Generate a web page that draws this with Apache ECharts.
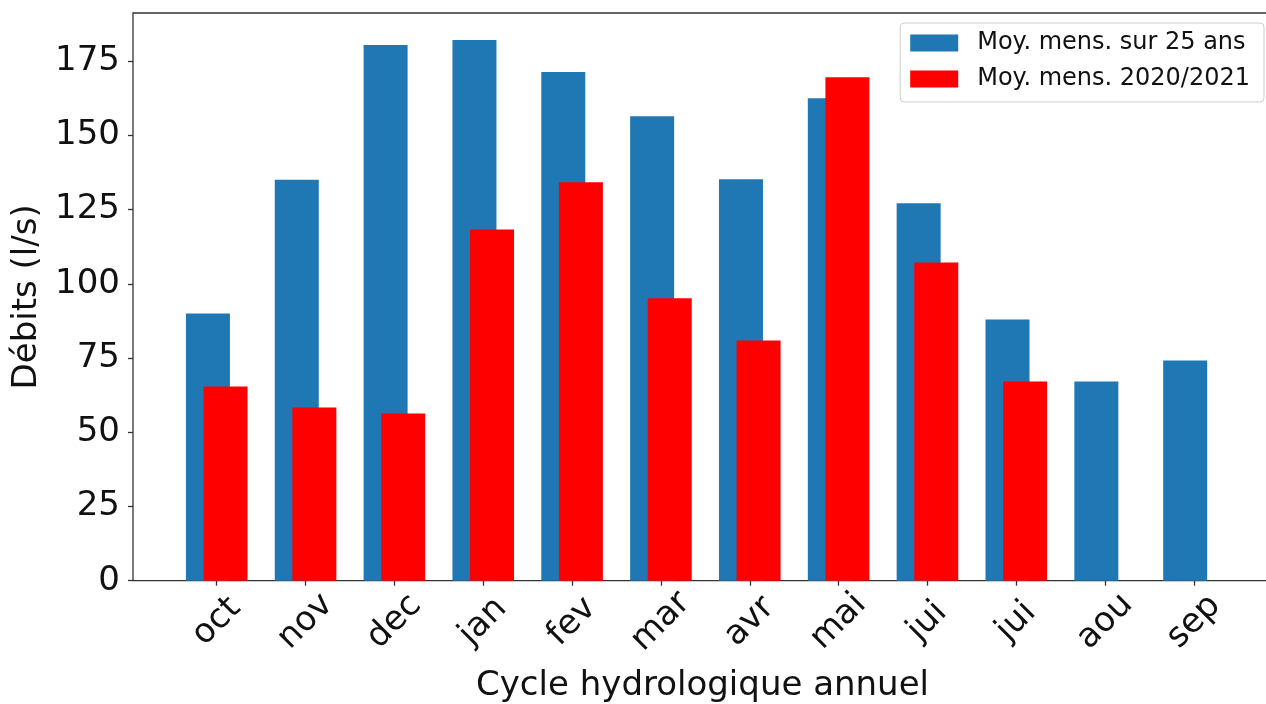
<!DOCTYPE html>
<html>
<head>
<meta charset="utf-8">
<script src="https://cdn.jsdelivr.net/npm/echarts@6/dist/echarts.min.js"></script>
<style>
html,body{margin:0;padding:0;background:#fff;}
#chart{width:1266px;height:704px;}
</style>
</head>
<body>
<div id="chart"></div>
<script>
const categories = ['oct','nov','dec','jan','fev','mar','avr','mai','jui','jui','aou','sep'];
const moy25 = [90, 135, 180.4, 182.1, 171.3, 156.4, 135.2, 162.5, 127.1, 88.0, 67.1, 74.2];
const moy2021 = [65.4, 58.3, 56.3, 118.3, 134.2, 95.1, 80.9, 169.6, 107.2, 67.1, null, null];
const yTicks = [0, 25, 50, 75, 100, 125, 150, 175];
const seriesNames = ['Moy. mens. sur 25 ans', 'Moy. mens. 2020/2021'];
const yName = 'Débits (l/s)';
const xName = 'Cycle hydrologique annuel';
const yMax = 191.2;

const FONT = 'DejaVu Sans';
const chart = echarts.init(document.getElementById('chart'), null, {renderer: 'canvas'});
chart.setOption({
  animation: false,
  textStyle: {fontFamily: FONT},
  grid: [
    {left: 133, right: -6, top: 13, bottom: 123.3, show: true, borderColor: '#333', borderWidth: 1.3,
     backgroundColor: 'transparent', containLabel: false, outerBoundsMode: 'none'},
    {left: 172.3, right: 27.6, top: 13, bottom: 123.3, containLabel: false, outerBoundsMode: 'none'}
  ],
  legend: {
    right: 2, top: 23,
    orient: 'vertical',
    data: seriesNames,
    icon: 'rect',
    itemWidth: 48, itemHeight: 17, itemGap: 8,
    padding: [6, 14, 9, 10],
    borderColor: '#cccccc', borderWidth: 1, borderRadius: 4,
    backgroundColor: 'rgba(255,255,255,0.8)',
    textStyle: {fontFamily: FONT, fontSize: 24, color: '#111', lineHeight: 28, padding: [0, 0, 0, 14]},
    selectedMode: false
  },
  xAxis: [
    {type: 'value', gridIndex: 0, min: 0, max: 1, show: true,
     axisLine: {show: false}, axisTick: {show: false}, axisLabel: {show: false}, splitLine: {show: false},
     name: xName, nameLocation: 'middle', nameGap: 88,
     nameTextStyle: {fontFamily: FONT, fontSize: 34, color: '#111'}},
    {type: 'category', gridIndex: 1, data: categories,
     axisLine: {show: false},
     axisTick: {show: true, alignWithLabel: true, length: 5, lineStyle: {color: '#333', width: 1.3}},
     axisLabel: {rotate: 45, align: 'center', verticalAlign: 'middle', margin: 41, fontFamily: FONT, fontSize: 34, color: '#111', interval: 0},
     splitLine: {show: false}}
  ],
  yAxis: [
    {type: 'value', gridIndex: 0, min: 0, max: yMax,
     axisLine: {show: false},
     axisTick: {show: true, length: 5, customValues: yTicks, lineStyle: {color: '#333', width: 1.3}},
     axisLabel: {customValues: yTicks, margin: 13, fontFamily: FONT, fontSize: 34, color: '#111'},
     splitLine: {show: false},
     name: yName, nameLocation: 'middle', nameGap: 88,
     nameTextStyle: {fontFamily: FONT, fontSize: 34, color: '#111'}},
    {type: 'value', gridIndex: 1, min: 0, max: yMax, show: false, splitLine: {show: false}}
  ],
  series: [
    {name: seriesNames[0], type: 'bar', xAxisIndex: 1, yAxisIndex: 1, data: moy25,
     barWidth: 44, barGap: '-60%', itemStyle: {color: '#1f77b4'}},
    {name: seriesNames[1], type: 'bar', xAxisIndex: 1, yAxisIndex: 1, data: moy2021,
     barWidth: 44, barGap: '-60%', itemStyle: {color: '#ff0000'}}
  ]
});
</script>
</body>
</html>
